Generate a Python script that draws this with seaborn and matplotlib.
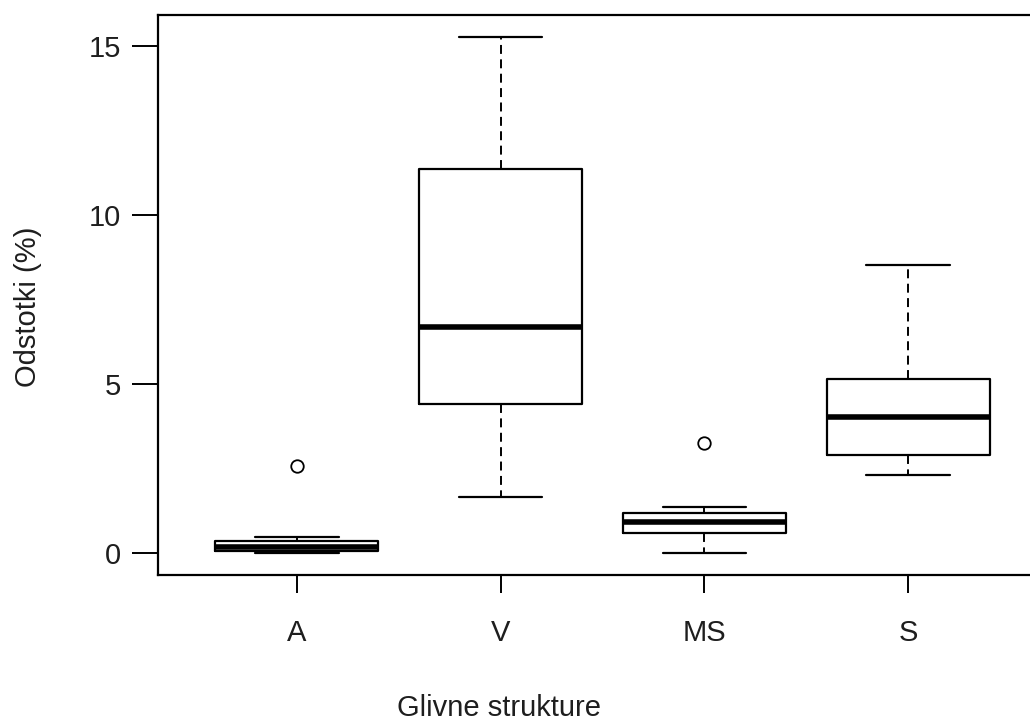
import matplotlib
matplotlib.use("Agg")
import matplotlib.pyplot as plt
import seaborn as sns

# Summary statistics per fungal structure (percent)
categories = ["A", "V", "MS", "S"]
whisker_low = [0.00, 1.66, 0.00, 2.30]
q1 = [0.05, 4.41, 0.58, 2.90]
median = [0.18, 6.69, 0.93, 4.01]
q3 = [0.35, 11.36, 1.18, 5.15]
whisker_high = [0.47, 15.27, 1.35, 8.52]
outliers = [[2.57], [], [3.25], []]
y_ticks = [0, 5, 10, 15]

sns.set_theme(style="white")
plt.rcParams["font.family"] = ["Liberation Sans", "DejaVu Sans"]

fig = plt.figure(figsize=(10.30, 7.24), dpi=100)
ax = fig.add_axes([158 / 1030, 1 - 575 / 724, (1047 - 158) / 1030, (575 - 15) / 724])

stats = []
for i, cat in enumerate(categories):
    stats.append(dict(label=cat, whislo=whisker_low[i], q1=q1[i], med=median[i],
                      q3=q3[i], whishi=whisker_high[i], fliers=outliers[i]))

ax.bxp(stats, positions=range(len(categories)), widths=0.8, showfliers=True,
       patch_artist=False,
       boxprops=dict(color="black", linewidth=1.6),
       medianprops=dict(color="black", linewidth=4.0, solid_capstyle="butt"),
       whiskerprops=dict(color="black", linewidth=1.4, linestyle=(0, (4.6, 2.8))),
       capprops=dict(color="black", linewidth=1.6),
       capwidths=0.41,
       flierprops=dict(marker="o", markersize=9, markerfacecolor="none",
                       markeredgecolor="black", markeredgewidth=1.3))

ax.set_xlim(-0.682, 3.682)
ax.set_ylim(-0.651, 15.92)
ax.set_yticks(y_ticks)
ax.set_yticklabels([str(v) for v in y_ticks])
ax.set_xticks(range(len(categories)))
ax.set_xticklabels(categories)

for spine in ax.spines.values():
    spine.set_visible(True)
    spine.set_color("black")
    spine.set_linewidth(1.6)

ax.tick_params(axis="both", which="major", direction="out", width=1.4,
               color="black", labelsize=21, labelcolor="#1e1e1e",
               left=True, bottom=True)
ax.tick_params(axis="y", length=18.5, pad=8)
ax.tick_params(axis="x", length=13, pad=19)

fig.text(499 / 1030, 1 - 708 / 724, "Glivne strukture", ha="center", va="center",
         fontsize=21, color="#1e1e1e")
fig.text(28 / 1030, 1 - 307 / 724, "Odstotki (%)", ha="center", va="center",
         rotation=90, fontsize=21, color="#1e1e1e")

fig.savefig("out.png", dpi=100, facecolor="white")
